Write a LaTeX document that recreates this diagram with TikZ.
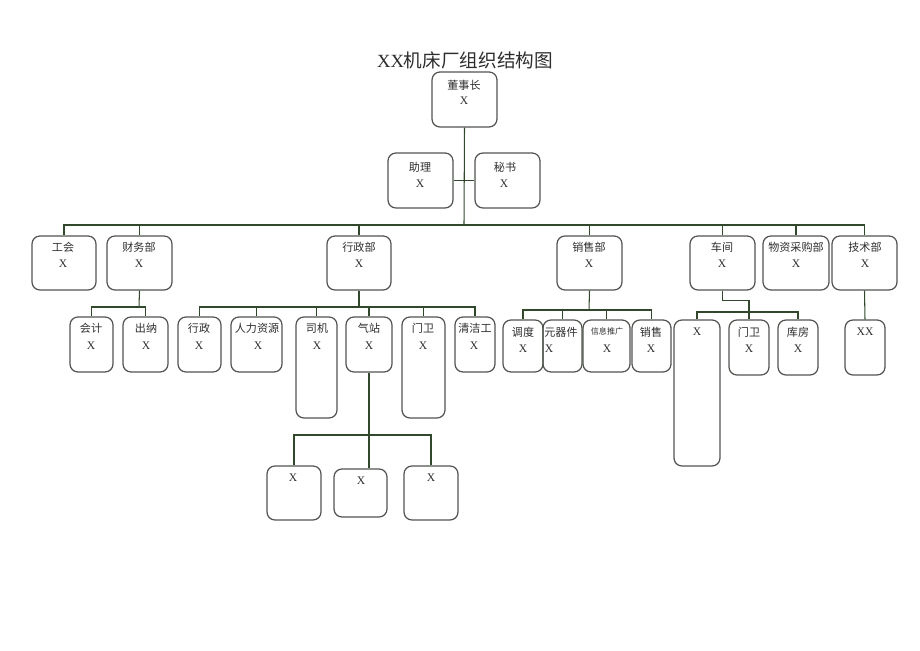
\documentclass[tikz,border=0pt]{standalone}
\usepackage{fontspec}
\setmainfont{Liberation Serif}
\newfontfamily\cjk{Noto Sans CJK SC}
\usetikzlibrary{fit}
\definecolor{boxgray}{RGB}{80,84,78}
\definecolor{linkgreen}{RGB}{50,72,45}
\definecolor{inkgray}{RGB}{45,45,45}
\tikzset{
  unit/.style={draw=boxgray, line width=0.7pt, rounded corners=4.5pt, inner sep=0pt},
  link/.style={draw=linkgreen, line width=0.6pt},
  zh/.style={font=\cjk\fontsize{6.3}{7}\selectfont, text=inkgray, inner sep=0pt},
  zhs/.style={font=\cjk\fontsize{4.6}{5}\selectfont, text=inkgray, inner sep=0pt},
  xl/.style={font=\fontsize{6.6}{7}\selectfont, text=inkgray, inner sep=0pt}
}
\begin{document}
\begin{tikzpicture}[x=0.02cm, y=-0.02cm]
\useasboundingbox (0,0) rectangle (920,651);

\node[font=\fontsize{10.6}{12}\selectfont, text=inkgray, inner sep=0pt] (title) at (465,60) {XX{\cjk 机床厂组织结构图}};

% top
\node[unit, fit={(432,72) (497,127)}] (dongshi) {};
\node[zh] (dongshi-a) at (464,85) {董事长};
\node[xl] (dongshi-b) at (464,101) {X};

\node[unit, fit={(388,153) (453,208)}] (zhuli) {};
\node[zh] (zhuli-a) at (420,167) {助理};
\node[xl] (zhuli-b) at (420,184) {X};
\node[unit, fit={(475,153) (540,208)}] (mishu) {};
\node[zh] (mishu-a) at (505,167) {秘书};
\node[xl] (mishu-b) at (504,184) {X};

% departments
\node[unit, fit={(32,236) (96,290)}] (gonghui) {};
\node[zh] (gonghui-a) at (63,247) {工会};
\node[xl] (gonghui-b) at (63,264) {X};
\node[unit, fit={(107,236) (172,290)}] (caiwu) {};
\node[zh] (caiwu-a) at (139,247) {财务部};
\node[xl] (caiwu-b) at (139,264) {X};
\node[unit, fit={(327,236) (391,290)}] (xingzheng) {};
\node[zh] (xingzheng-a) at (359,247) {行政部};
\node[xl] (xingzheng-b) at (359,264) {X};
\node[unit, fit={(557,236) (622,290)}] (xiaoshou) {};
\node[zh] (xiaoshou-a) at (589,247) {销售部};
\node[xl] (xiaoshou-b) at (589,264) {X};
\node[unit, fit={(690,236) (755,290)}] (chejian) {};
\node[zh] (chejian-a) at (722,247) {车间};
\node[xl] (chejian-b) at (722,264) {X};
\node[unit, fit={(763,236) (829,290)}] (wuzi) {};
\node[zh] (wuzi-a) at (796,247) {物资采购部};
\node[xl] (wuzi-b) at (796,264) {X};
\node[unit, fit={(832,236) (897,290)}] (jishu) {};
\node[zh] (jishu-a) at (865,247) {技术部};
\node[xl] (jishu-b) at (865,264) {X};

% finance
\node[unit, fit={(70,317) (113,372)}] (kuaiji) {};
\node[zh] (kuaiji-a) at (91,328) {会计};
\node[xl] (kuaiji-b) at (91,346) {X};
\node[unit, fit={(123,317) (168,372)}] (chuna) {};
\node[zh] (chuna-a) at (146,328) {出纳};
\node[xl] (chuna-b) at (146,346) {X};

% administration
\node[unit, fit={(178,317) (221,372)}] (xz) {};
\node[zh] (xz-a) at (199,328) {行政};
\node[xl] (xz-b) at (199,346) {X};
\node[unit, fit={(231,317) (282,372)}] (renli) {};
\node[zh] (renli-a) at (257,328) {人力资源};
\node[xl] (renli-b) at (258,346) {X};
\node[unit, fit={(296,317) (337,418)}] (siji) {};
\node[zh] (siji-a) at (317,328) {司机};
\node[xl] (siji-b) at (317,346) {X};
\node[unit, fit={(346,317) (392,372)}] (qizhan) {};
\node[zh] (qizhan-a) at (369,328) {气站};
\node[xl] (qizhan-b) at (369,346) {X};
\node[unit, fit={(402,317) (445,418)}] (menwei) {};
\node[zh] (menwei-a) at (423,328) {门卫};
\node[xl] (menwei-b) at (423,346) {X};
\node[unit, fit={(455,317) (495,372)}] (qingjie) {};
\node[zh] (qingjie-a) at (475,328) {清洁工};
\node[xl] (qingjie-b) at (474,346) {X};

% gas station
\node[unit, fit={(267,466) (321,520)}] (qz1) {};
\node[xl] (qz1-b) at (293,478) {X};
\node[unit, fit={(334,469) (387,517)}] (qz2) {};
\node[xl] (qz2-b) at (361,481) {X};
\node[unit, fit={(404,466) (458,520)}] (qz3) {};
\node[xl] (qz3-b) at (431,478) {X};

% sales
\node[unit, fit={(503,320) (543,372)}] (diaodu) {};
\node[zh] (diaodu-a) at (523,332) {调度};
\node[xl] (diaodu-b) at (523,349) {X};
\node[unit, fit={(543,320) (582,372)}] (yuanqi) {};
\node[zh] (yuanqi-a) at (561,332) {元器件};
\node[xl] (yuanqi-b) at (549,349) {X};
\node[unit, fit={(583,320) (630,372)}] (xinxi) {};
\node[zhs] (xinxi-a) at (607,331) {信息推广};
\node[xl] (xinxi-b) at (607,349) {X};
\node[unit, fit={(632,320) (671,372)}] (xs) {};
\node[zh] (xs-a) at (651,332) {销售};
\node[xl] (xs-b) at (651,349) {X};

% workshop
\node[unit, fit={(674,320) (720,466)}] (cjx) {};
\node[xl] (cjx-b) at (697,332) {X};
\node[unit, fit={(729,320) (769,375)}] (cjmw) {};
\node[zh] (cjmw-a) at (749,332) {门卫};
\node[xl] (cjmw-b) at (749,349) {X};
\node[unit, fit={(778,320) (818,375)}] (kufang) {};
\node[zh] (kufang-a) at (798,332) {库房};
\node[xl] (kufang-b) at (798,349) {X};

% technology
\node[unit, fit={(845,320) (885,375)}] (xx) {};
\node[xl] (xx-b) at (865,332) {XX};

% hubs
\coordinate (hub) at (464,225);
\coordinate (cwhub) at (139,307);
\coordinate (xzhub) at (359,307);
\coordinate (qzhub) at (369,435);
\coordinate (xshub) at (589,310);
\coordinate (cjhub) at (749,312);

% connectors
\draw[link] (dongshi.south) -- (hub);
\draw[link] (zhuli.east) -- (mishu.west);
\draw[link] (gonghui.north) |- (hub) -| (jishu.north);
\draw[link] (caiwu.north) -- (caiwu.north |- hub);
\draw[link] (xingzheng.north) -- (xingzheng.north |- hub);
\draw[link] (xiaoshou.north) -- (xiaoshou.north |- hub);
\draw[link] (chejian.north) -- (chejian.north |- hub);
\draw[link] (wuzi.north) -- (wuzi.north |- hub);

\draw[link] (caiwu.south) -- (cwhub);
\draw[link] (kuaiji.north) |- (cwhub) -| (chuna.north);

\draw[link] (xingzheng.south) -- (xzhub);
\draw[link] (xz.north) |- (xzhub) -| (qingjie.north);
\draw[link] (renli.north) -- (renli.north |- xzhub);
\draw[link] (siji.north) -- (siji.north |- xzhub);
\draw[link] (qizhan.north) -- (qizhan.north |- xzhub);
\draw[link] (menwei.north) -- (menwei.north |- xzhub);

\draw[link] (qizhan.south) -- (qizhan.south |- qz2.north);
\draw[link] (qz1.north) |- (qzhub) -| (qz3.north);

\draw[link] (xiaoshou.south) -- (xshub);
\draw[link] (diaodu.north) |- (xshub) -| (xs.north);
\draw[link] (yuanqi.north) -- (yuanqi.north |- xshub);
\draw[link] (xinxi.north) -- (xinxi.north |- xshub);

\draw[link] (chejian.south) -- ++(0,10) -| (cjhub);
\draw[link] (cjx.north) |- (cjhub) -| (kufang.north);
\draw[link] (cjmw.north) -- (cjhub);

\draw[link] (jishu.south) -- (xx.north);
\end{tikzpicture}
\end{document}
